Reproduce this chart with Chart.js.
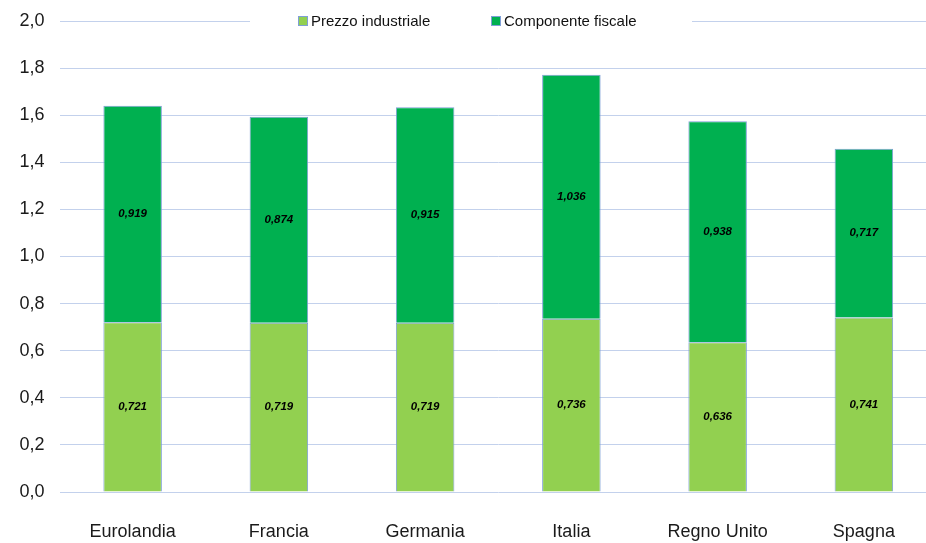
<!DOCTYPE html>
<html>
<head>
<meta charset="utf-8">
<script src="https://cdn.jsdelivr.net/npm/chart.js@4"></script>
<style>
  html, body { margin: 0; padding: 0; overflow: hidden; background: #fff; }
  canvas { display: block; }
</style>
</head>
<body>
<canvas id="prezzi" width="940" height="543"></canvas>
<script>
const paesi = ['Eurolandia', 'Francia', 'Germania', 'Italia', 'Regno Unito', 'Spagna'];
const prezzoIndustriale = [0.721, 0.719, 0.719, 0.736, 0.636, 0.741];
const componenteFiscale = [0.919, 0.874, 0.915, 1.036, 0.938, 0.717];
const yTicks = [0, 0.2, 0.4, 0.6, 0.8, 1.0, 1.2, 1.4, 1.6, 1.8, 2.0];

const FONT = 'Liberation Sans, Arial, sans-serif';

// etichette dei valori al centro di ogni segmento
const valueLabels = {
    id: 'valueLabels',
    afterDatasetsDraw(chart) {
        const ctx = chart.ctx;
        ctx.save();
        ctx.font = 'italic bold 11.5px ' + FONT;
        ctx.fillStyle = '#000';
        ctx.textAlign = 'center';
        ctx.textBaseline = 'middle';
        chart.data.datasets.forEach((ds, i) => {
            chart.getDatasetMeta(i).data.forEach((bar, j) => {
                const txt = ds.data[j].toFixed(3).replace('.', ',');
                ctx.fillText(txt, bar.x, (bar.y + bar.base) / 2);
            });
        });
        ctx.restore();
    }
};

// legenda sopra la prima griglia, con fondo bianco
const topLegend = {
    id: 'topLegend',
    afterDraw(chart) {
        const ctx = chart.ctx;
        const y = chart.chartArea.top;
        ctx.save();
        ctx.fillStyle = '#fff';
        ctx.fillRect(250, y - 10, 442, 20);
        ctx.font = '15px ' + FONT;
        ctx.textBaseline = 'middle';
        let x = 298;
        chart.data.datasets.forEach((ds) => {
            ctx.fillStyle = ds.backgroundColor;
            ctx.fillRect(x, y - 5, 10, 10);
            ctx.strokeStyle = '#7f9fd6';
            ctx.lineWidth = 1;
            ctx.strokeRect(x + 0.5, y - 4.5, 9, 9);
            ctx.fillStyle = '#111';
            ctx.fillText(ds.label, x + 13, y + 1);
            x += 193;
        });
        ctx.restore();
    }
};

const ctx = document.getElementById('prezzi').getContext('2d');

const chart = new Chart(ctx, {
    type: 'bar',
    data: {
        labels: paesi,
        datasets: [{
            label: 'Prezzo industriale',
            data: prezzoIndustriale,
            backgroundColor: '#92d050',
            borderColor: '#7f9fd6',
            borderWidth: 1
        }, {
            label: 'Componente fiscale',
            data: componenteFiscale,
            backgroundColor: '#00b050',
            borderColor: '#7f9fd6',
            borderWidth: 1
        }]
    },
    options: {
        responsive: false,
        animation: false,
        layout: { padding: { top: 21, right: 3, left: 0, bottom: 0 } },
        datasets: { bar: { barPercentage: 0.4, categoryPercentage: 1 } },
        plugins: {
            legend: { display: false },
            tooltip: { enabled: false }
        },
        scales: {
            x: {
                stacked: true,
                grid: { display: false, drawTicks: false },
                border: { display: false },
                ticks: { color: '#1a1a1a', font: { family: FONT, size: 18 }, padding: 29 },
                afterFit(scale) { scale.height = 51; }
            },
            y: {
                stacked: true,
                min: 0,
                max: 2,
                afterBuildTicks(scale) { scale.ticks = yTicks.map(v => ({ value: v })); },
                grid: { color: '#c3d1ec', lineWidth: 1, drawTicks: true, tickLength: 14, tickColor: 'rgba(0,0,0,0)' },
                border: { display: false },
                ticks: {
                    color: '#1a1a1a',
                    font: { family: FONT, size: 18 },
                    padding: 1,
                    callback: (v) => Number(v).toFixed(1).replace('.', ',')
                },
                afterFit(scale) { scale.width = 59.5; }
            }
        }
    },
    plugins: [valueLabels, topLegend]
});
</script>
</body>
</html>
